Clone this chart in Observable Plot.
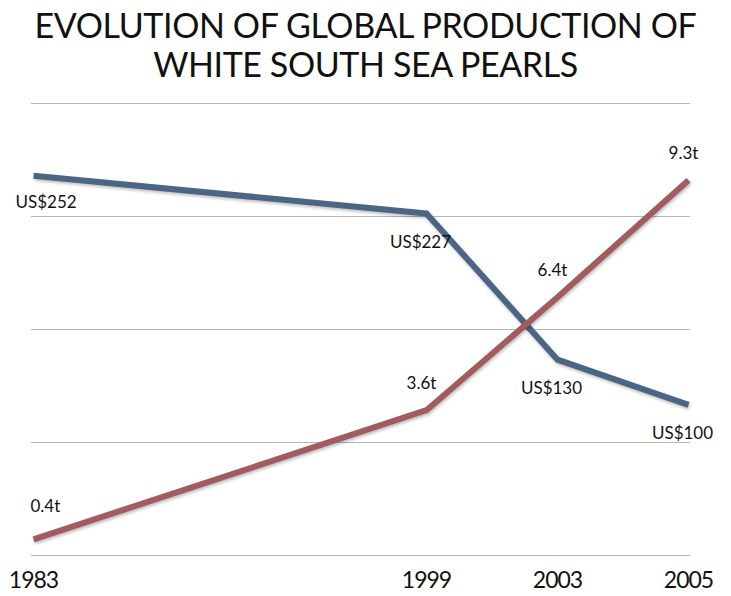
<!DOCTYPE html>
<html>
<head>
<meta charset="utf-8">
<script src="https://cdn.jsdelivr.net/npm/d3@7"></script>
<script src="https://cdn.jsdelivr.net/npm/@observablehq/plot@0.6"></script>
<style>
  html, body { margin: 0; padding: 0; background: #fff; }
  body { width: 731px; height: 596px; overflow: hidden; font-family: Lato, "Open Sans", sans-serif; }
  #title {
    height: 88px; box-sizing: border-box; padding-top: 5px;
    text-align: center; font-size: 34px; line-height: 39px; color: #111;
    letter-spacing: -0.4px;
  }
  #chart svg g[aria-label="line"] path { filter: drop-shadow(1px 2px 1.5px rgba(0,0,0,0.25)); }
  #chart svg g[aria-label="x-axis tick label"] text { letter-spacing: -1px; }
</style>
</head>
<body>
<div id="title">EVOLUTION OF GLOBAL PRODUCTION OF<br>WHITE SOUTH SEA PEARLS</div>
<div id="chart"></div>
<script>
// Years shown on the axis; the two spacer slots keep the long 1983–1999 stretch wider.
const years = ["1983", "1999", "2003", "2005"];
const xSlots = ["1983", "gap-a", "gap-b", "1999", "2003", "2005"];
// Average price per pearl (US$)
const price = [252, 227, 130, 100];
// Global production (tonnes)
const tonnes = [0.4, 3.6, 6.4, 9.3];

// Shared value axis: price 0–300, production drawn on 0–11.2 t
const priceMax = 300;
const tonnesMax = 11.2;

const priceData = years.map((year, i) => ({year, value: price[i], label: `US$${price[i]}`}));
const tonnesData = years.map((year, i) => ({year, value: tonnes[i] / tonnesMax * priceMax, label: `${tonnes[i]}t`}));

const blue = "#4b6585";
const red = "#a25c60";

const chart = Plot.plot({
  width: 731,
  height: 508,
  marginTop: 15,
  marginBottom: 41,
  marginLeft: 31,
  marginRight: 41,
  style: {fontFamily: "Lato, 'Open Sans', sans-serif", background: "#fff", overflow: "visible"},
  x: {type: "point", domain: xSlots, padding: 0, axis: null},
  y: {domain: [0, priceMax], axis: null},
  marks: [
    Plot.gridY([0, 75, 150, 225, 300], {stroke: "#b8b8b8", strokeOpacity: 1, strokeWidth: 1}),
    Plot.axisX(years, {tickSize: 0, tickPadding: 16, fontSize: 23, fill: "#111", anchor: "bottom", label: null}),
    Plot.line(priceData, {x: "year", y: "value", stroke: blue, strokeWidth: 6, strokeLinejoin: "round", strokeLinecap: "butt"}),
    Plot.line(tonnesData, {x: "year", y: "value", stroke: red, strokeWidth: 6, strokeLinejoin: "round", strokeLinecap: "butt"}),
    Plot.text(priceData.slice(0, 1), {x: "year", y: "value", text: "label", dy: 27, dx: -18, textAnchor: "start", fontSize: 17, fill: "#111"}),
    Plot.text(priceData.slice(1), {x: "year", y: "value", text: "label", dy: 29, dx: -6, fontSize: 17, fill: "#111"}),
    Plot.text(tonnesData.slice(0, 1), {x: "year", y: "value", text: "label", dy: -33, dx: -3, textAnchor: "start", fontSize: 17, fill: "#111"}),
    Plot.text(tonnesData.slice(1), {x: "year", y: "value", text: "label", dy: -27, dx: -5, fontSize: 17, fill: "#111"})
  ]
});
document.getElementById("chart").appendChild(chart);
</script>
</body>
</html>
